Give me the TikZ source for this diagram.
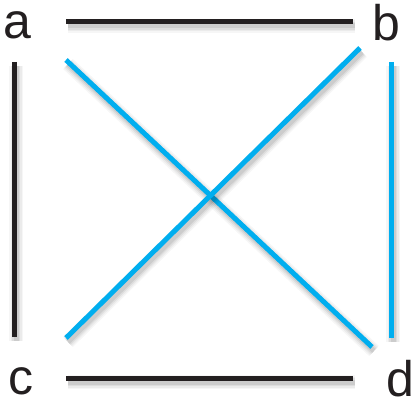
\documentclass[tikz,border=0pt]{standalone}
\usepackage{fontspec}
\setmainfont{Liberation Sans}
\definecolor{ink}{RGB}{35,31,32}
\definecolor{sky}{RGB}{0,174,239}
\tikzset{
  lbl/.style={inner sep=0pt, font=\fontsize{50}{50}\selectfont, text=ink},
  edge/.style={line width=5pt},
}
\newcommand\shadowedline[3]{%
  \foreach \w/\o in {14/0.035,11/0.045,8/0.06,5/0.08}{%
    \draw[line width=\w pt, black, opacity=\o, transform canvas={shift={(2pt,-4pt)}}] (#2) -- (#3);}
  \draw[edge,#1] (#2) -- (#3);}
\begin{document}
\begin{tikzpicture}[x=1pt,y=1pt]
\useasboundingbox (0,0) rectangle (414,399);
\node[lbl] (a) at (17,374) {a};
\node[lbl] (b) at (386,376.5) {b};
\node[lbl] (c) at (21.5,18) {c};
\node[lbl] (d) at (400.5,20.5) {d};
\coordinate (t1) at (66,377);  \coordinate (t2) at (353,377);
\coordinate (l1) at (14,337);  \coordinate (l2) at (14,62);
\coordinate (m1) at (66,21);   \coordinate (m2) at (353,21);
\coordinate (r1) at (391,337); \coordinate (r2) at (391,61);
\coordinate (p1) at (66,339);  \coordinate (p2) at (372,52);
\coordinate (q1) at (360,351); \coordinate (q2) at (66,61);
\shadowedline{ink}{t1}{t2}
\shadowedline{ink}{l1}{l2}
\shadowedline{ink}{m1}{m2}
\shadowedline{sky}{r1}{r2}
\shadowedline{sky}{p1}{p2}
\shadowedline{sky}{q1}{q2}
\end{tikzpicture}
\end{document}
